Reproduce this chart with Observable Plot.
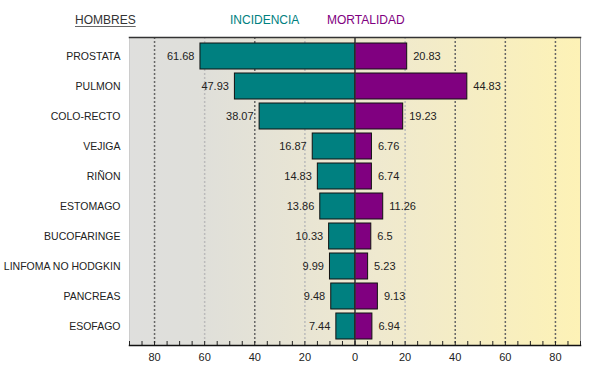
<!DOCTYPE html>
<html>
<head>
<meta charset="utf-8">
<script src="https://cdn.jsdelivr.net/npm/d3@7"></script>
<script src="https://cdn.jsdelivr.net/npm/@observablehq/plot@0.6"></script>
<style>
  body { margin: 0; background: #fff; font-family: "Liberation Sans", Arial, sans-serif; }
  #header { position: relative; width: 590px; height: 30px; }
  #header span { position: absolute; top: 14px; font-size: 12px; line-height: 12px; }
  #hombres { left: 75px; color: #333; text-decoration: underline; text-decoration-color: #666; text-underline-offset: 2px; }
  #inc { left: 230px; color: #008080; }
  #mort { left: 327px; color: #800080; }
</style>
</head>
<body>
<div id="header"><span id="hombres">HOMBRES</span><span id="inc">INCIDENCIA</span><span id="mort">MORTALIDAD</span></div>
<div id="chart"></div>
<script>
const categories = ["PROSTATA","PULMON","COLO-RECTO","VEJIGA","RIÑON","ESTOMAGO","BUCOFARINGE","LINFOMA NO HODGKIN","PANCREAS","ESOFAGO"];
const incidencia = [61.68,47.93,38.07,16.87,14.83,13.86,10.33,9.99,9.48,7.44];
const mortalidad = [20.83,44.83,19.23,6.76,6.74,11.26,6.5,5.23,9.13,6.94];
const tickLabels = [-80,-60,-40,-20,0,20,40,60,80];
const gridDark = [-80,-40,40,60,80];
const gridLight = [-60,-20,20];
const minorTicks = d3.range(-90, 91, 5);

const rows = categories.map((c, i) => ({cat: c, inc: incidencia[i], mort: mortalidad[i]}));

const chart = Plot.plot({
  width: 590,
  height: 341,
  marginTop: 7,
  marginBottom: 26,
  marginLeft: 129,
  marginRight: 10,
  style: {fontFamily: "'Liberation Sans', Arial, sans-serif", background: "transparent"},
  x: {domain: [-90, 90]},
  y: {domain: categories, padding: 0.13, paddingOuter: 0.07},
  marks: [
    Plot.frame({fill: "url(#bggrad)", stroke: null}),
    Plot.ruleX(gridLight, {stroke: "#bbb", strokeWidth: 1.5, strokeDasharray: "2,2"}),
    Plot.ruleX(gridDark, {stroke: "#666", strokeWidth: 1.5, strokeDasharray: "2,2"}),
    Plot.barX(rows, {y: "cat", x1: 0, x2: d => -d.inc, fill: "#008080", stroke: "#111", strokeWidth: 1}),
    Plot.barX(rows, {y: "cat", x1: 0, x2: "mort", fill: "#800080", stroke: "#111", strokeWidth: 1}),
    Plot.ruleX([0], {stroke: "#333", strokeWidth: 1.5}),
    Plot.text(rows, {y: "cat", x: d => -d.inc, text: d => String(d.inc), textAnchor: "end", dx: -6, fontSize: 11, fill: "#222"}),
    Plot.text(rows, {y: "cat", x: "mort", text: d => String(d.mort), textAnchor: "start", dx: 6, fontSize: 11, fill: "#222"}),
    Plot.frame({stroke: "#999", strokeWidth: 1}),
    Plot.ruleX([-90], {stroke: "#ccc"}),
    Plot.axisY({tickSize: 0, tickPadding: 9, fontSize: 10.5, fill: "#222", label: null}),
    Plot.ruleX(minorTicks, {insetTop: 304, stroke: "#222", strokeWidth: 1}),
    Plot.axisX({ticks: tickLabels, tickSize: 0, tickPadding: 8, tickFormat: d => String(Math.abs(d)), fontSize: 11, fill: "#222", label: null}),
    Plot.frame({anchor: "bottom", stroke: "#111", strokeWidth: 1.5}),
    Plot.frame({anchor: "top", stroke: "#333", strokeWidth: 1.5})
  ]
});

const ns = "http://www.w3.org/2000/svg";
const defs = document.createElementNS(ns, "defs");
const grad = document.createElementNS(ns, "linearGradient");
grad.setAttribute("id", "bggrad");
grad.setAttribute("x1", "0"); grad.setAttribute("x2", "1");
grad.setAttribute("y1", "0"); grad.setAttribute("y2", "0");
[["0", "#dfdfdd"], ["0.15", "#dfdfda"], ["0.55", "#efe9cf"], ["1", "#fdf2b6"]].forEach(([o, c]) => {
  const s = document.createElementNS(ns, "stop");
  s.setAttribute("offset", o); s.setAttribute("stop-color", c);
  grad.appendChild(s);
});
defs.appendChild(grad);
chart.insertBefore(defs, chart.firstChild);
document.getElementById("chart").appendChild(chart);
</script>
</body>
</html>
